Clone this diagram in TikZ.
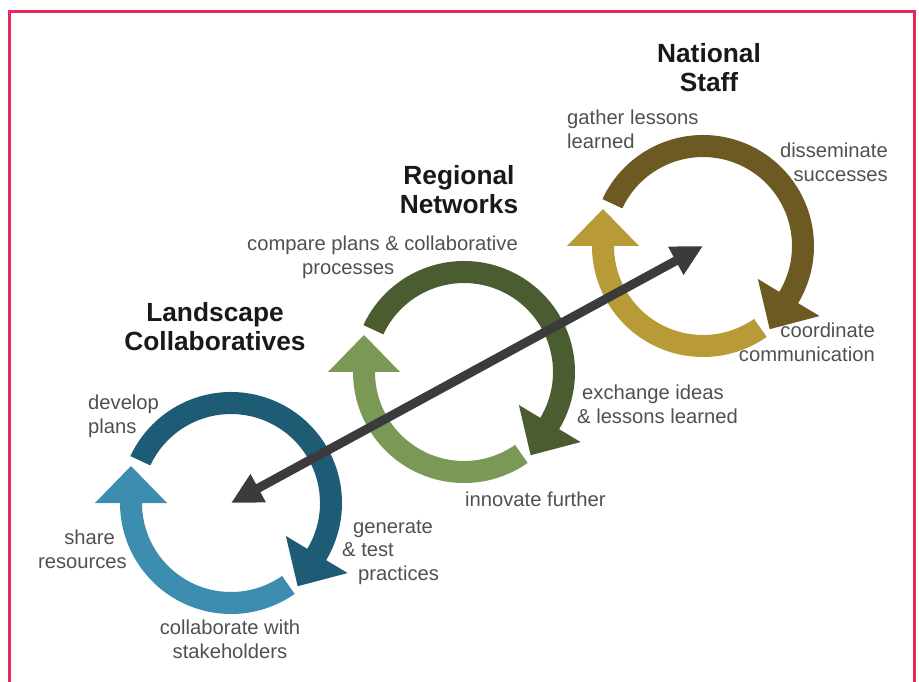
\documentclass[tikz,border=0pt]{standalone}
\usepackage{fontspec}
\setmainfont{Liberation Sans}
\usetikzlibrary{calc,arrows.meta}

\definecolor{landdark}{HTML}{1E5B75}
\definecolor{landlight}{HTML}{3C8DB0}
\definecolor{regdark}{HTML}{4A5C30}
\definecolor{reglight}{HTML}{7A9856}
\definecolor{natdark}{HTML}{6D5A22}
\definecolor{natlight}{HTML}{B89A37}
\definecolor{arrowgray}{HTML}{3B3B3B}
\definecolor{textgray}{HTML}{505050}
\definecolor{framered}{HTML}{E8285A}

\tikzset{
	lbl/.style={text=textgray, font=\fontsize{20.2}{23.5}\selectfont, inner sep=0pt},
	ttl/.style={text=black!90, font=\bfseries\fontsize{26.3}{29}\selectfont, inner sep=0pt, align=center},
}

\begin{document}
\begin{tikzpicture}[x=1pt, y=1pt]
	\useasboundingbox (0,0) rectangle (919,681);
	\clip (0,0) rectangle (919,681);
	% рамка
	\draw[framered, line width=3pt] (9,669) rectangle (914,-20);
	% центры циклов
	\coordinate (land) at (231,178);
	\coordinate (reg) at (464,309);
	\coordinate (nat) at (703,435);
	% циклы: тёмная дуга сверху, светлая снизу
	\foreach \cc/\cdk/\clt in {land/landdark/landlight, reg/regdark/reglight, nat/natdark/natlight}{
		\fill[\cdk] ($(\cc)+(155:111)$) arc[start angle=155, end angle=-31, radius=111]
			-- ($(\cc)+(-31:136)$) -- ($(\cc)+(-31:100)+(-121:37)$) -- ($(\cc)+(-31:64)$)
			-- ($(\cc)+(-31:89)$) arc[start angle=-31, end angle=155, radius=89] -- cycle;
		\fill[\clt] ($(\cc)+(-55:111)$) arc[start angle=-55, end angle=-180, radius=111]
			-- ($(\cc)+(180:136)$) -- ($(\cc)+(180:100)+(90:37)$) -- ($(\cc)+(180:64)$)
			-- ($(\cc)+(180:89)$) arc[start angle=-180, end angle=-55, radius=89] -- cycle;
	}
	% двойная стрелка
	\draw[arrowgray, line width=9pt, {Triangle[length=31pt, width=30pt]}-{Triangle[length=31pt, width=30pt]}] (land) -- (nat);
	% заголовки
	\node[ttl, anchor=north] (natT) at (709,638) {National\\Staff};
	\node[ttl, anchor=north] (regT) at (459,516) {Regional\\Networks};
	\node[ttl, anchor=north] (landT) at (215,379) {Landscape\\Collaboratives};
	% подписи
	\node[lbl, anchor=north west, align=left] (gather) at (567,571) {gather lessons\\learned};
	\node[lbl, anchor=north east, align=right] (dissem) at (888,538) {disseminate\\successes};
	\node[lbl, anchor=north east, align=right] (coord) at (875,358) {coordinate\\communication};
	\node[lbl, anchor=north west, align=left] (compare) at (247,445) {compare plans \& collaborative\\\hspace*{55pt}processes};
	\node[lbl, anchor=north west, align=left] (exch) at (577,296) {\hspace*{5pt}exchange ideas\\\& lessons learned};
	\node[lbl, anchor=north west] (innov) at (465,189) {innovate further};
	\node[lbl, anchor=north west, align=left] (dev) at (88,286) {develop\\plans};
	\node[lbl, anchor=north east, align=right] (share) at (127,151) {share\hspace*{12pt}\\resources};
	\node[lbl, anchor=north west, align=left] (gen) at (342,161) {\hspace*{11pt}generate\\\& test\\\hspace*{16pt}practices};
	\node[lbl, anchor=north, align=center] (collab) at (230,61) {collaborate with\\stakeholders};
\end{tikzpicture}
\end{document}
